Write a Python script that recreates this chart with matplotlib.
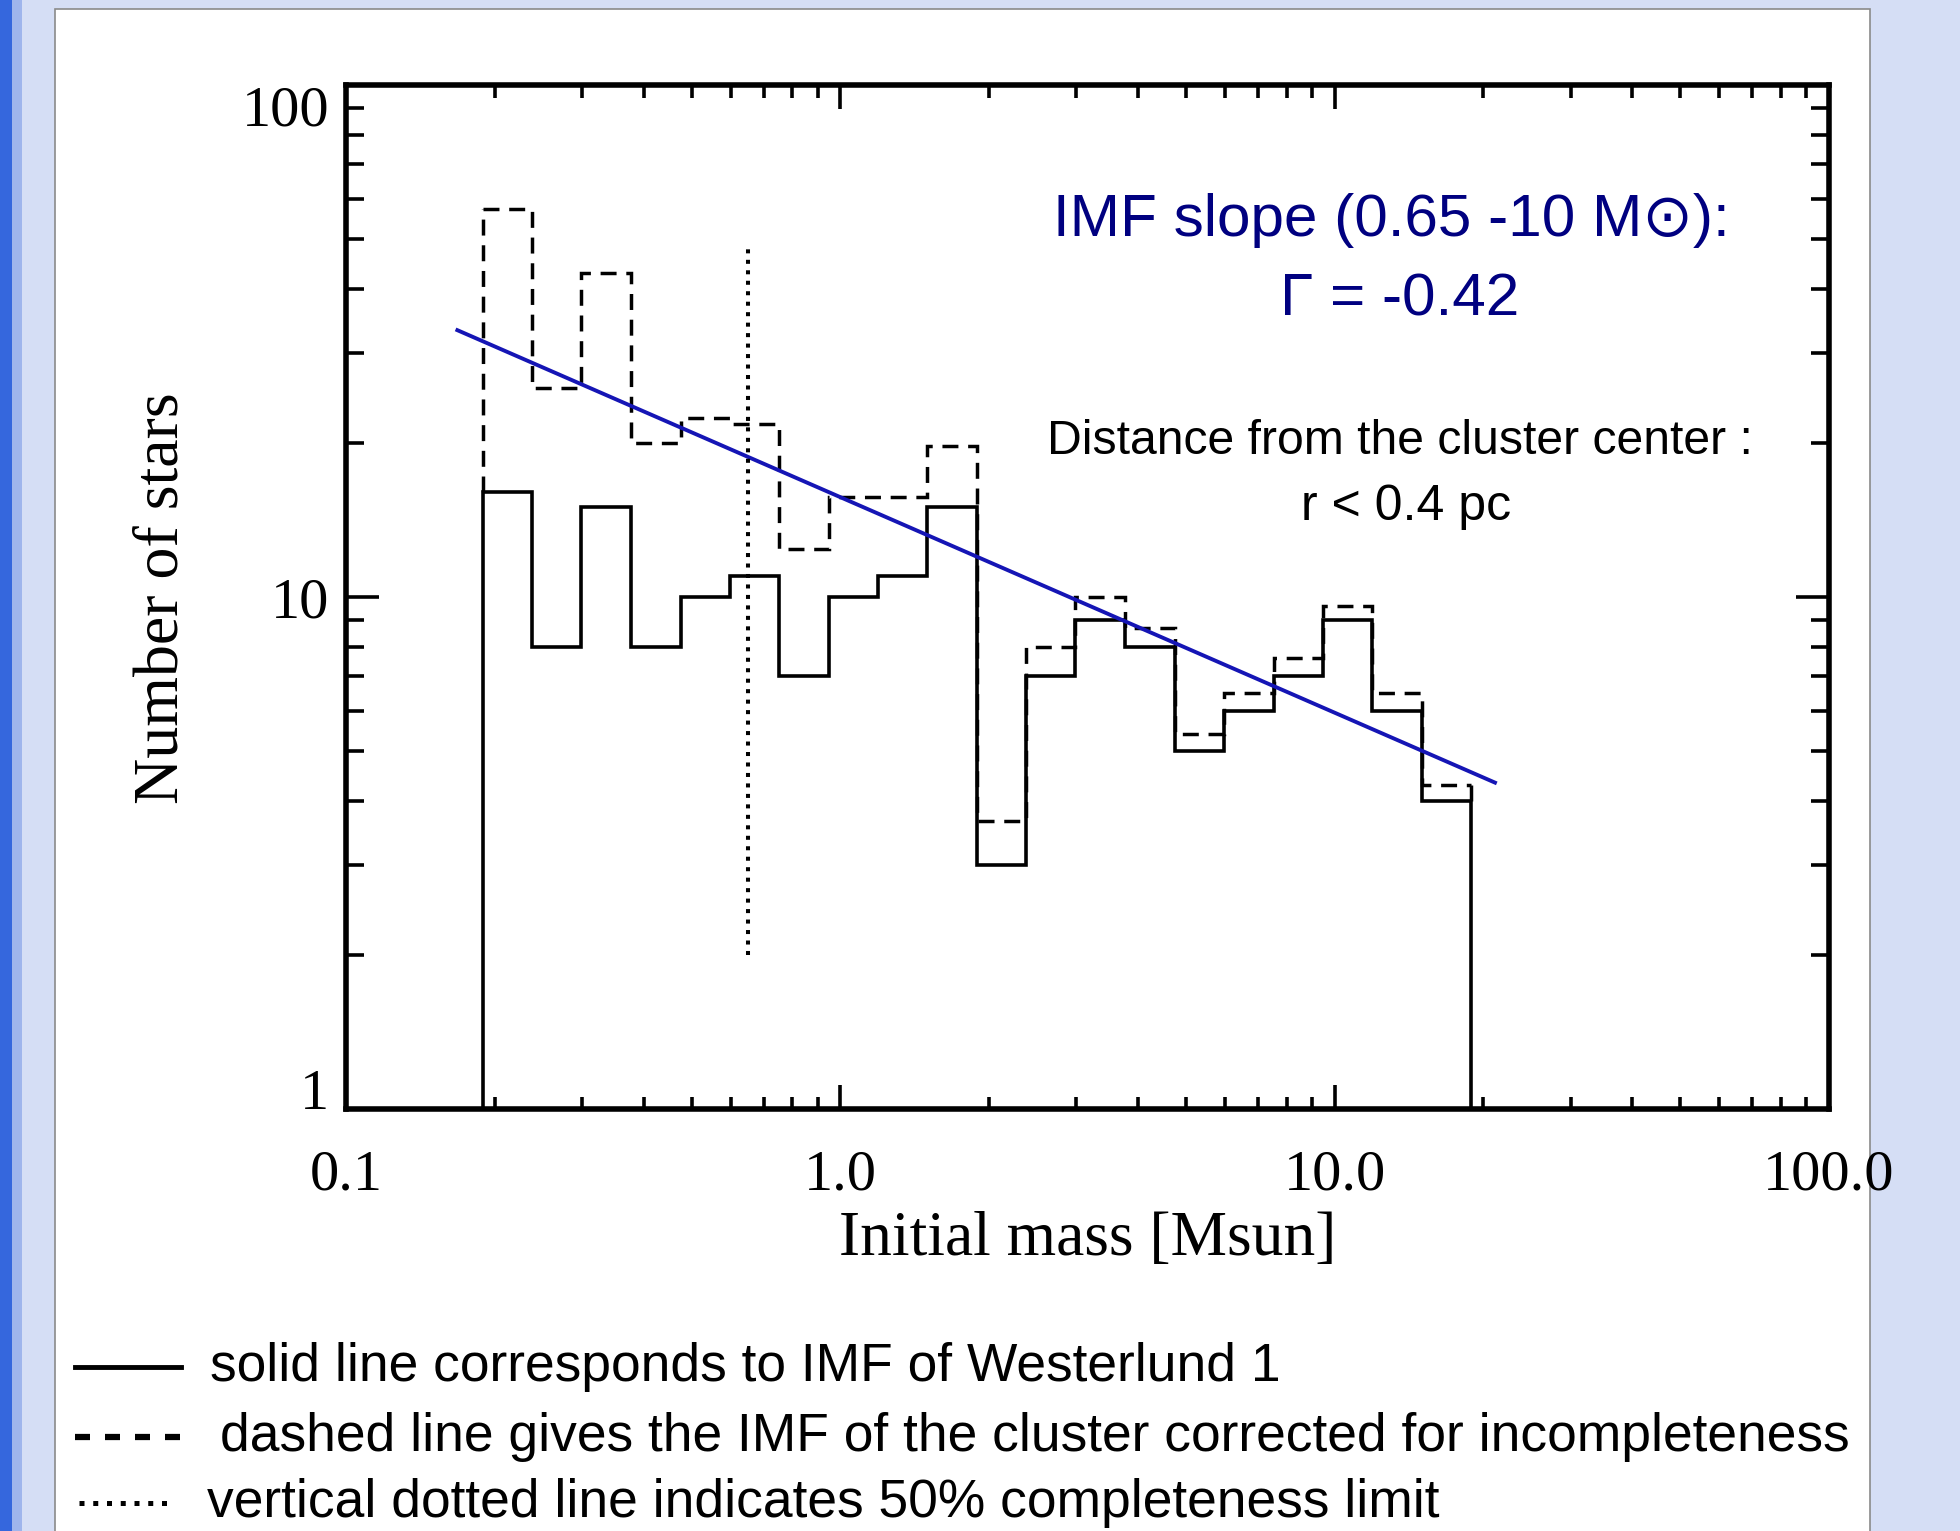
import matplotlib
matplotlib.use('Agg')
import matplotlib.pyplot as plt
from matplotlib.lines import Line2D
from matplotlib.patches import Rectangle
from matplotlib.ticker import FixedLocator, FixedFormatter, NullFormatter, LogLocator
import numpy as np

# ---------------- data ----------------
bin_edges = [0.189, 0.238, 0.299, 0.377, 0.475, 0.598, 0.753, 0.948, 1.19, 1.50,
             1.89, 2.38, 2.99, 3.77, 4.75, 5.98, 7.53, 9.48, 11.9, 15.0, 18.9]
n_observed = [16, 8, 15, 8, 10, 11, 7, 10, 11, 15, 3, 7, 9, 8, 5, 6, 7, 9, 6, 4]
n_corrected = [57.3, 25.6, 43.0, 20.0, 22.4, 21.8, 12.4, 15.7, 15.7, 19.7,
               3.65, 8.0, 10.0, 8.7, 5.4, 6.5, 7.6, 9.6, 6.5, 4.3]
fit_mass = [0.168, 21.1]
fit_N = [33.2, 4.34]
completeness_mass = 0.65
completeness_span = [2.0, 49.0]
x_ticks = [0.1, 1.0, 10.0, 100.0]
x_tick_labels = ['0.1', '1.0', '10.0', '100.0']
y_ticks = [1, 10, 100]
y_tick_labels = ['1', '10', '100']

W, H = 1960, 1531
fig = plt.figure(figsize=(W / 100, H / 100), dpi=100)
fig.patch.set_facecolor('#d5def5')

# background decorations (behind everything)
fig.patches.append(Rectangle((0, 0), 12 / W, 1, transform=fig.transFigure,
                             facecolor='#3567dd', edgecolor='none', zorder=-10))
fig.patches.append(Rectangle((12 / W, 0), 10 / W, 1, transform=fig.transFigure,
                             facecolor='#9fb5ec', edgecolor='none', zorder=-10))
fig.patches.append(Rectangle((55 / W, -0.01), (1870 - 55) / W, (H - 9) / H + 0.01,
                             transform=fig.transFigure, facecolor='white',
                             edgecolor='#8a8a8a', lw=1.2, zorder=-9))

ax = fig.add_axes([346 / W, 1 - 1109 / H, (1829 - 346) / W, (1109 - 85) / H])
ax.set_zorder(1)
ax.set_facecolor('white')
ax.set_xscale('log')
ax.set_yscale('log')
ax.set_xlim(0.1, 100)
ax.set_ylim(1, 100)

# dashed (corrected) histogram
ax.stairs(n_corrected, bin_edges, baseline=None, color='black', lw=2.5,
          linestyle=(0, (4.6, 2.8)))
ax.vlines([bin_edges[0], bin_edges[-1]], [n_observed[0], n_observed[-1]],
          [n_corrected[0], n_corrected[-1]], color='black', lw=2.5,
          linestyle=(0, (4.6, 2.8)))
# solid (observed) histogram
ax.stairs(n_observed, bin_edges, baseline=1, color='black', lw=2.6)
# IMF fit
ax.plot(fit_mass, fit_N, color='#1515b5', lw=2.8)
# completeness limit
ax.vlines(completeness_mass, completeness_span[0], completeness_span[1],
          color='black', lw=2.9, linestyle=(0, (1.0, 1.6)))

for s in ax.spines.values():
    s.set_linewidth(4)

ax.xaxis.set_major_locator(FixedLocator(x_ticks))
ax.xaxis.set_major_formatter(FixedFormatter(x_tick_labels))
ax.xaxis.set_minor_locator(LogLocator(base=10, subs=np.arange(2, 10)))
ax.xaxis.set_minor_formatter(NullFormatter())
ax.yaxis.set_major_locator(FixedLocator(y_ticks))
ax.yaxis.set_major_formatter(FixedFormatter(y_tick_labels))
ax.yaxis.set_minor_locator(LogLocator(base=10, subs=np.arange(2, 10)))
ax.yaxis.set_minor_formatter(NullFormatter())

ax.tick_params(which='both', direction='in', top=True, right=True, width=2.6)
ax.tick_params(axis='x', which='major', length=17, pad=29)
ax.tick_params(axis='x', which='minor', length=9)
ax.tick_params(axis='y', which='major', length=24, pad=12)
ax.tick_params(axis='y', which='minor', length=13)
for lab in ax.get_xticklabels() + ax.get_yticklabels():
    lab.set_fontfamily('Liberation Serif')
    lab.set_fontsize(42)
ylabs = ax.get_yticklabels()
ylabs[0].set_verticalalignment('baseline')
ylabs[-1].set_verticalalignment('top')

fig.text(0.5548, 1 - 1240 / H, 'Initial mass [Msun]', family='Liberation Serif',
         fontsize=45.7, ha='center', va='center')
fig.text(162 / W, 1 - 598 / H, 'Number of stars', family='Liberation Serif',
         fontsize=46, ha='center', va='center', rotation=90)

navy = '#000080'
sans = ['Liberation Sans', 'DejaVu Sans']
fig.text(1391 / W, 1 - 221 / H, 'IMF slope (0.65 -10 M\u2299):', family=sans,
         fontsize=43.4, color=navy, ha='center', va='center')
fig.text(1400 / W, 1 - 300 / H, '\u0393 = -0.42', family=sans,
         fontsize=43.4, color=navy, ha='center', va='center')
fig.text(1400 / W, 1 - 441 / H, 'Distance from the cluster center :', family=sans,
         fontsize=34.7, color='black', ha='center', va='center')
fig.text(1406 / W, 1 - 507 / H, 'r < 0.4 pc', family=sans,
         fontsize=36, color='black', ha='center', va='center')

# legend explanation at the bottom
leg_y = [1 - 1367 / H, 1 - 1437 / H, 1 - 1503 / H]
fig.add_artist(Line2D([75 / W, 181 / W], [leg_y[0]] * 2, transform=fig.transFigure,
                      color='black', lw=3.5))
fig.add_artist(Line2D([75 / W, 188 / W], [leg_y[1]] * 2, transform=fig.transFigure,
                      color='black', lw=4.5, linestyle=(0, (2.4, 2.4))))
fig.add_artist(Line2D([79 / W, 172 / W], [leg_y[2]] * 2, transform=fig.transFigure,
                      color='black', lw=3.6, linestyle=(0, (1.0, 1.75))))
fig.text(210 / W, leg_y[0], 'solid line corresponds to IMF of Westerlund 1',
         family=sans, fontsize=38.4, ha='left', va='center')
fig.text(220 / W, leg_y[1], 'dashed line gives the IMF of the cluster corrected for incompleteness',
         family=sans, fontsize=38.4, ha='left', va='center')
fig.text(207 / W, leg_y[2], 'vertical dotted line indicates 50% completeness limit',
         family=sans, fontsize=38.4, ha='left', va='center')

fig.savefig('out.png', dpi=100, facecolor=fig.get_facecolor())
